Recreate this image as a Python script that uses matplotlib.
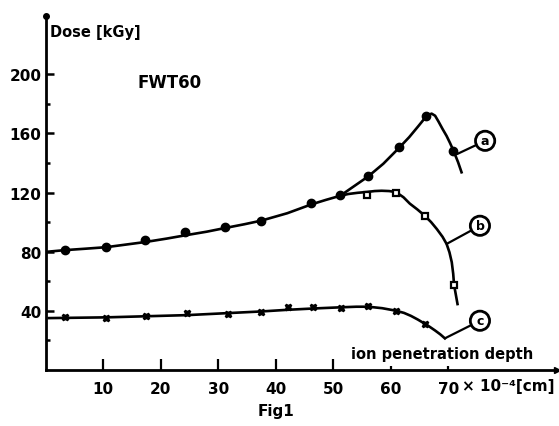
import matplotlib
matplotlib.use("Agg")
import matplotlib.pyplot as plt

# curve a (filled circles)
a_x = [3.3, 10.5, 17.3, 24.2, 31.2, 37.5, 46.2, 51.2, 56.1, 61.5, 66.2, 70.9]
a_y = [81, 83, 88, 93.5, 96.5, 101, 113, 118, 131, 150.5, 172, 148]
a_line_x = [0.5, 3.3, 7, 10.5, 14, 17.3, 21, 24.2, 28, 31.2, 34.5, 37.5, 42, 46.2, 48.7, 51.2, 53.5,
            56.1, 58.7, 61.5, 63.2, 64.8, 65.8, 66.5, 67.1, 67.7, 68.3, 69.0, 69.7, 70.3, 70.9, 71.7, 72.3]
a_line_y = [80, 81, 82, 83, 84.8, 86.5, 88.8, 91, 93.5, 96, 98.5, 101, 106, 112, 115, 117.8, 124,
            131, 139.5, 150.5, 157.5, 165, 169.8, 172.5, 173.4, 172, 168, 163, 158.3, 153.5, 148.3, 140.5, 133.7]

# curve b (open squares)
b_x = [55.9, 60.9, 65.9, 71.0]
b_y = [118, 120, 104.3, 57.4]
b_line_x = [51.2, 52.6, 54.2, 55.9, 57.2, 58.4, 59.7, 60.9, 62.2, 63.3, 64.6, 65.9, 67.0, 68.0,
            69.0, 69.7, 70.2, 70.6, 70.85, 71.0, 71.3, 71.6]
b_line_y = [117.8, 119, 119.8, 120.4, 121, 121.2, 121, 120.3, 116.8, 112.5, 108.6, 104.3, 100, 95.3,
            90, 85.2, 79.5, 72.8, 65, 57.4, 51, 44.5]

# curve c (small crosses)
c_x = [3.3, 10.5, 17.4, 24.5, 31.7, 37.5, 42.1, 46.5, 51.3, 56.1, 60.9, 65.9]
c_y = [35.5, 35, 36.2, 38.4, 37.8, 39.3, 42.3, 42.3, 41.6, 43.4, 40, 31]
c_line_x = [0.5, 10.5, 24.5, 37.5, 42, 46.5, 51.3, 54, 56.1, 58.5, 60.9, 62.3, 63.5, 64.7, 65.9, 66.8, 67.7, 68.6, 69.4]
c_line_y = [35, 35.5, 37, 39.5, 40.6, 41.5, 42.3, 42.7, 42.7, 41.7, 40, 38.5, 36.5, 34, 31.2, 29, 26.6, 24, 21.3]

y_major = [40, 80, 120, 160, 200]
y_minor = [20, 60, 100, 140, 180]
x_major = [10, 20, 30, 40, 50]
x_minor = [60, 70]

fig = plt.figure(figsize=(5.59, 4.27), dpi=100)
ax = fig.add_axes([45.8 / 559, 1 - 370.8 / 427, (557 - 45.8) / 559, (370.8 - 16.7) / 427])
ax.set_xlim(0, 88.9)
ax.set_ylim(0, 239.7)

lw = 1.9
ax.plot(a_line_x, a_line_y, color="black", lw=lw)
ax.plot(b_line_x, b_line_y, color="black", lw=lw)
ax.plot(c_line_x, c_line_y, color="black", lw=lw)
ax.plot(a_x, a_y, "o", color="black", ms=6)
ax.plot(b_x, b_y, "s", mfc="white", mec="black", mew=1.6, ms=5)
ax.plot(c_x, c_y, "X", color="black", ms=5)

for s in ["top", "right"]:
    ax.spines[s].set_visible(False)
for s in ["left", "bottom"]:
    ax.spines[s].set_linewidth(2.0)

# axis ends
ax.plot([0], [1], marker="o", ms=4, color="black", transform=ax.transAxes, clip_on=False)
ax.plot([1], [0], marker=">", ms=5, color="black", transform=ax.transAxes, clip_on=False)

ax.set_yticks(y_major)
ax.set_yticks(y_minor, minor=True)
ax.set_yticklabels([str(v) for v in y_major], fontsize=11, fontweight="bold")
ax.set_xticks(x_major)
ax.set_xticks(x_minor, minor=True)
ax.set_xticklabels([str(v) for v in x_major], fontsize=11, fontweight="bold")
ax.set_xticklabels([str(v) for v in x_minor], minor=True, fontsize=11, fontweight="bold")
ax.tick_params(axis="y", which="major", direction="in", length=6, width=1.8, pad=3)
ax.tick_params(axis="y", which="minor", direction="in", length=3, width=1.8)
ax.tick_params(axis="x", which="major", direction="in", length=8, width=1.6, pad=8)
ax.tick_params(axis="x", which="minor", direction="in", length=3, width=1.6, pad=8)

ax.annotate("× 10⁻⁴[cm]", xy=(72.3, 0), xycoords=("data", "axes fraction"),
            xytext=(0, -16), textcoords="offset pixels", ha="left", va="center",
            fontsize=11, fontweight="bold")

# circled labels
labels = [("a", (71.5, 146), (76.4, 155)),
          ("b", (69.7, 85.2), (75.5, 97.5)),
          ("c", (69.4, 21.3), (75.5, 33.2))]
for txt, p, q in labels:
    ax.annotate(txt, xy=p, xytext=q, ha="center", va="center", fontsize=9, fontweight="bold",
                bbox=dict(boxstyle="circle,pad=0.25", fc="white", ec="black", lw=2),
                arrowprops=dict(arrowstyle="-", lw=1.6, color="black", shrinkA=0, shrinkB=0))

ax.text(21.5, 194.5, "FWT60", ha="center", va="center", fontsize=12, fontweight="bold")
ax.text(69, 10.7, "ion penetration depth", ha="center", va="center", fontsize=10.5, fontweight="bold")
fig.text(50 / 559, 1 - 32 / 427, "Dose [kGy]", ha="left", va="center", fontsize=10.5, fontweight="bold")
fig.text(276 / 559, 1 - 412 / 427, "Fig1", ha="center", va="center", fontsize=11, fontweight="bold")

fig.savefig("out.png", dpi=100)
